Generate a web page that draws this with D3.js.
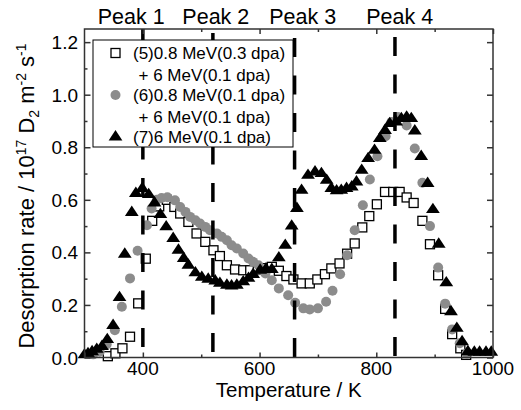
<!doctype html>
<html lang="en">
<head>
  <style>
    body { margin: 0; background: #fff; }
    text { font-family: "Liberation Sans", Arial, sans-serif; fill: #000; }
  </style>
  <script src="https://d3js.org/d3.v7.min.js"></script>
</head>
<body>
  <script>
      // series (5) open squares
      const tempS5 = [340, 353, 365, 378, 392, 405, 416, 428, 441, 454,
                      464, 478, 492, 507, 521, 532, 544, 558, 572, 584,
                      597, 609, 621, 633, 646, 658, 672, 686, 699, 712,
                      723, 737, 750, 763, 776, 788, 801, 815, 829, 840,
                      852, 864, 879, 892, 906, 918, 930, 944, 954];
      const rateS5 = [0.005, 0.016, 0.035, 0.079, 0.206, 0.376, 0.52, 0.575, 0.60, 0.573,
                      0.548, 0.516, 0.472, 0.44, 0.408, 0.386, 0.351, 0.335, 0.332, 0.332,
                      0.335, 0.34, 0.345, 0.33, 0.31, 0.297, 0.282, 0.282, 0.297, 0.317,
                      0.339, 0.358, 0.395, 0.434, 0.495, 0.538, 0.583, 0.63, 0.63, 0.63,
                      0.609, 0.588, 0.52, 0.431, 0.313, 0.185, 0.089, 0.035, 0.01];
      // series (6) grey circles
      const tempS6 = [315, 326, 338, 352, 364, 378, 391, 407, 415, 424,
                      432, 442, 455, 464, 473, 481, 490, 498, 507, 515,
                      527, 535, 544, 552, 561, 572, 581, 589, 598, 610,
                      621, 633, 649, 661, 675, 686, 700, 714, 725, 738,
                      750, 763, 777, 789, 802, 816, 826, 837, 852, 866,
                      879, 892, 906, 918, 930, 943, 955];
      const rateS6 = [0.012, 0.022, 0.05, 0.104, 0.193, 0.301, 0.406, 0.503, 0.567, 0.60,
                      0.607, 0.61, 0.598, 0.573, 0.554, 0.535, 0.522, 0.51, 0.497, 0.484,
                      0.472, 0.459, 0.446, 0.427, 0.415, 0.396, 0.377, 0.364, 0.351, 0.32,
                      0.294, 0.263, 0.237, 0.208, 0.187, 0.183, 0.187, 0.212, 0.254, 0.317,
                      0.389, 0.484, 0.579, 0.677, 0.766, 0.842, 0.896, 0.915, 0.883, 0.795,
                      0.665, 0.5, 0.342, 0.205, 0.107, 0.054, 0.015];
      // series (7) black triangles
      const tempS7 = [300, 306, 313, 321, 330, 339, 349, 360, 369, 381,
                      388, 399, 410, 420, 430, 440, 452, 461, 470, 478,
                      490, 501, 512, 524, 532, 544, 552, 561, 572, 581,
                      589, 601, 611, 621, 633, 644, 655, 664, 672, 683,
                      695, 706, 715, 723, 732, 740, 749, 758, 766, 775,
                      786, 797, 806, 815, 823, 834, 843, 852, 860, 866,
                      877, 888, 897, 907, 920, 928, 938, 947, 957, 968,
                      977, 988, 997];
      const rateS7 = [0.01, 0.015, 0.022, 0.031, 0.042, 0.068, 0.122, 0.228, 0.393, 0.552,
                      0.624, 0.643, 0.62, 0.588, 0.544, 0.497, 0.453, 0.408, 0.377, 0.351,
                      0.322, 0.305, 0.298, 0.291, 0.282, 0.275, 0.272, 0.275, 0.288, 0.301,
                      0.316, 0.332, 0.337, 0.335, 0.379, 0.427, 0.5, 0.567, 0.636, 0.693,
                      0.706, 0.70, 0.674, 0.643, 0.634, 0.636, 0.643, 0.649, 0.668, 0.712,
                      0.757, 0.788, 0.833, 0.864, 0.890, 0.896, 0.909, 0.915, 0.909, 0.862,
                      0.765, 0.662, 0.563, 0.431, 0.284, 0.174, 0.111, 0.060, 0.022, 0.02,
                      0.02, 0.02, 0.02];

      const peakTemps = [400, 520, 660, 832];
      const peakLabels = ["Peak 1", "Peak 2", "Peak 3", "Peak 4"];
      const peakLabelTemps = [380, 525, 674, 840];
      const xTicks = [400, 600, 800, 1000];
      const yTicks = [0, 0.2, 0.4, 0.6, 0.8, 1.0, 1.2];

      const W = 521, H = 410;
      const svg = d3.select("body").append("svg")
          .attr("width", W).attr("height", H);

      const x = d3.scaleLinear().domain([300, 1000]).range([84.5, 493]);
      const y = d3.scaleLinear().domain([0, 1.25]).range([357.5, 29]);

      function label(g, px, py, str, size, anchor) {
          return g.append("text")
              .attr("x", px).attr("y", py)
              .attr("text-anchor", anchor)
              .style("font-size", size + "px")
              .text(str);
      }

      const zip = (t, v) => t.map((d, i) => ({ t: d, v: v[i] }));

      // markers
      svg.append("g").selectAll("rect")
          .data(zip(tempS5, rateS5)).enter().append("rect")
          .attr("x", d => x(d.t) - 4.5).attr("y", d => y(d.v) - 4.5)
          .attr("width", 9).attr("height", 9)
          .attr("fill", "#fff").attr("stroke", "#000").attr("stroke-width", 1.3);

      svg.append("g").selectAll("circle")
          .data(zip(tempS6, rateS6)).enter().append("circle")
          .attr("cx", d => x(d.t)).attr("cy", d => y(d.v))
          .attr("r", 5).attr("fill", "#8c8c8c");

      const tri = d3.symbol().type(d3.symbolTriangle).size(62);
      svg.append("g").selectAll("path")
          .data(zip(tempS7, rateS7)).enter().append("path")
          .attr("d", tri)
          .attr("transform", d => `translate(${x(d.t)},${y(d.v)}) scale(1.15,1)`)
          .attr("fill", "#000");

      // dashed peak lines
      const dashOff = [1, -4, -9, -8];
      svg.append("g").selectAll("line")
          .data(peakTemps).enter().append("line")
          .attr("x1", d => x(d)).attr("x2", d => x(d))
          .attr("y1", y(1.25)).attr("y2", y(0))
          .attr("stroke", "#000").attr("stroke-width", 3.5)
          .attr("stroke-dasharray", "19,18.5")
          .attr("stroke-dashoffset", (d, i) => dashOff[i]);

      // frame and ticks
      const axCol = "#333";
      svg.append("rect")
          .attr("x", x(300)).attr("y", y(1.25))
          .attr("width", x(1000) - x(300)).attr("height", y(0) - y(1.25))
          .attr("fill", "none").attr("stroke", axCol).attr("stroke-width", 1.5);

      const xMinor = d3.range(500, 1000, 200);
      const yMinor = d3.range(0.1, 1.25, 0.2);
      const xb = d3.axisBottom(x).tickValues(xTicks.concat([300])).tickSize(-5).tickFormat("");
      const xbm = d3.axisBottom(x).tickValues(xMinor).tickSize(-3).tickFormat("");
      const xt = d3.axisTop(x).tickValues(xTicks).tickSize(-5).tickFormat("");
      const xtm = d3.axisTop(x).tickValues(xMinor).tickSize(-3).tickFormat("");
      const yl = d3.axisLeft(y).tickValues(yTicks).tickSize(-6).tickFormat("");
      const ylm = d3.axisLeft(y).tickValues(yMinor).tickSize(-3).tickFormat("");
      const yr = d3.axisRight(y).tickValues(yTicks).tickSize(-6).tickFormat("");
      const yrm = d3.axisRight(y).tickValues(yMinor).tickSize(-3).tickFormat("");
      [[xb, `0,${y(0)}`], [xbm, `0,${y(0)}`], [xt, `0,${y(1.25)}`], [xtm, `0,${y(1.25)}`],
       [yl, `${x(300)},0`], [ylm, `${x(300)},0`], [yr, `${x(1000)},0`], [yrm, `${x(1000)},0`]]
        .forEach(([ax, tr]) => {
          const g = svg.append("g").attr("transform", `translate(${tr})`).call(ax);
          g.select(".domain").remove();
          g.selectAll("line").attr("stroke", axCol).attr("stroke-width", 1.5);
        });

      // tick labels
      const lab = svg.append("g");
      xTicks.forEach(t => label(lab, x(t), 375, String(t), 19, "middle"));
      yTicks.forEach(v => label(lab, 78, y(v) + 7, d3.format(".1f")(v), 19, "end"));

      // axis titles
      label(lab, x(650), 397, "Temperature / K", 20.5, "middle");
      const yt = lab.append("text")
          .attr("transform", `translate(34,196) rotate(-90)`)
          .attr("text-anchor", "middle")
          .style("font-size", "22px");
      yt.append("tspan").text("Desorption rate / 10");
      yt.append("tspan").attr("dy", -8).style("font-size", "14px").text("17");
      yt.append("tspan").attr("dy", 8).text(" D");
      yt.append("tspan").attr("dy", 5).style("font-size", "14px").text("2");
      yt.append("tspan").attr("dy", -5).text(" m");
      yt.append("tspan").attr("dy", -8).style("font-size", "14px").text("-2");
      yt.append("tspan").attr("dy", 8).text(" s");
      yt.append("tspan").attr("dy", -8).style("font-size", "14px").text("-1");

      // peak labels
      peakLabels.forEach((p, i) => label(lab, x(peakLabelTemps[i]), 24, p, 21.5, "middle"));

      // legend
      const leg = svg.append("g");
      leg.append("rect").attr("x", 93).attr("y", 40).attr("width", 200).attr("height", 107)
          .attr("fill", "#fff").attr("stroke", "#000").attr("stroke-width", 1);
      leg.append("rect").attr("x", 111).attr("y", 48.5).attr("width", 9).attr("height", 9)
          .attr("fill", "#fff").attr("stroke", "#000").attr("stroke-width", 1.3);
      leg.append("circle").attr("cx", 115.5).attr("cy", 95).attr("r", 5).attr("fill", "#8c8c8c");
      leg.append("path").attr("d", tri)
          .attr("transform", "translate(115.5,137) scale(1.15,1)").attr("fill", "#000");
      const legText = ["(5)0.8 MeV(0.3 dpa)", "+ 6 MeV(0.1 dpa)", "(6)0.8 MeV(0.1 dpa)",
                       "+ 6 MeV(0.1 dpa)", "(7)6 MeV(0.1 dpa)"];
      const legY = [59, 80.5, 101, 122.5, 143];
      const legX = [133, 138.5, 133, 138.5, 133];
      legText.forEach((s, i) => label(leg, legX[i], legY[i], s, 17, "start"));
  </script>
</body>
</html>
